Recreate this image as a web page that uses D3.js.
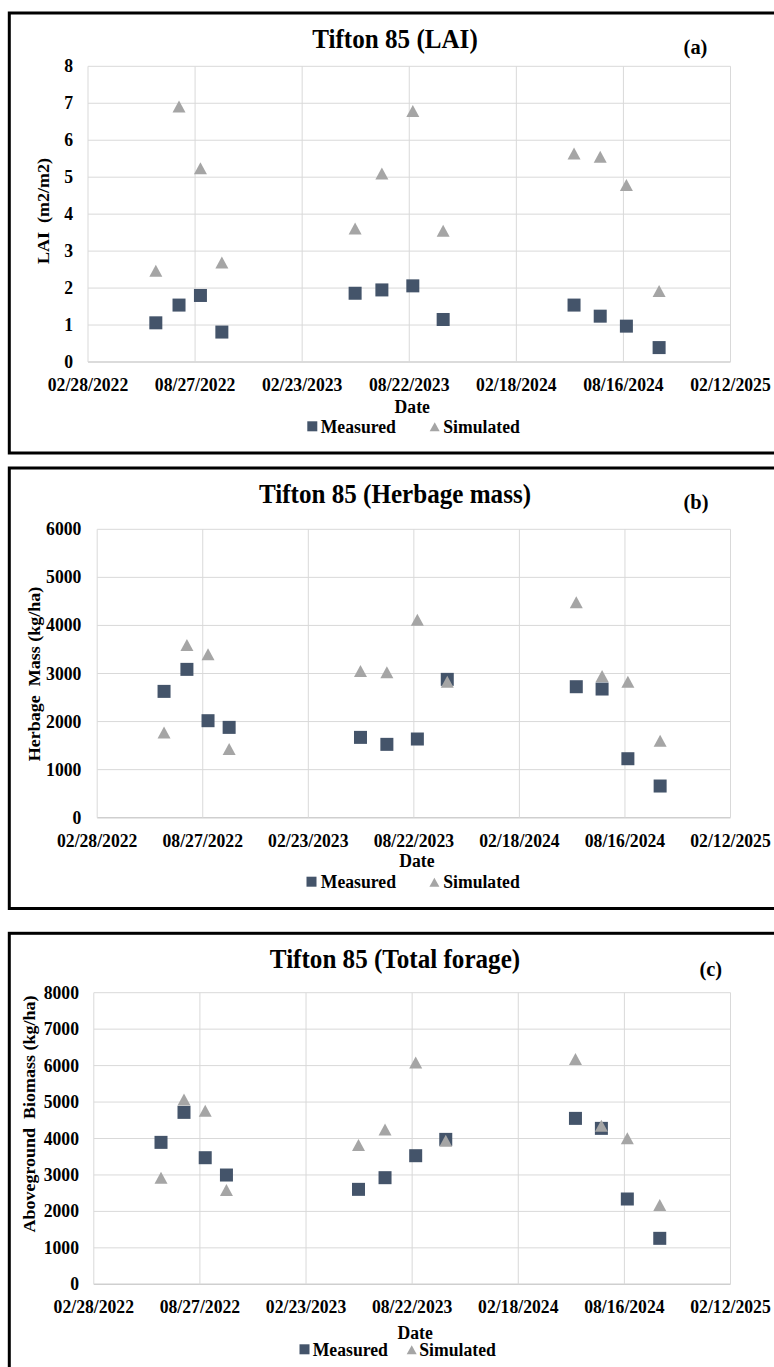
<!DOCTYPE html>
<html>
<head>
<meta charset="utf-8">
<script src="https://cdn.jsdelivr.net/npm/d3@7"></script>
<style>
  html, body { margin: 0; padding: 0; background: #fff; }
  svg { display: block; }
</style>
</head>
<body>
<svg id="fig" width="774" height="1367"></svg>
<script>
// Sampling dates shared by all three panels
const sampleDates = [
  "2022-06-22", "2022-07-31", "2022-09-05", "2022-10-11",
  "2023-05-23", "2023-07-07", "2023-08-28", "2023-10-18",
  "2024-05-25", "2024-07-08", "2024-08-21", "2024-10-15"
];

// (a) Leaf area index, m2/m2
const laiMeasured  = [1.06, 1.54, 1.80, 0.81, 1.86, 1.95, 2.06, 1.15, 1.54, 1.24, 0.97, 0.39];
const laiSimulated = [2.47, 6.91, 5.24, 2.69, 3.61, 5.10, 6.79, 3.55, 5.64, 5.55, 4.79, 1.92];

// (b) Herbage mass, kg/ha
const herbageMeasured  = [2628, 3086, 2018, 1879, 1671, 1526, 1637, 2878, 2725, 2677, 1227, 659];
const herbageSimulated = [1775, 3592, 3398, 1429, 3051, 3024, 4119, 2829, 4480, 2947, 2829, 1602];

// (c) Aboveground biomass (total forage), kg/ha
const totalMeasured  = [3894, 4717, 3473, 2998, 2605, 2925, 3528, 3976, 4552, 4278, 2340, 1261];
const totalSimulated = [2925, 5073, 4762, 2587, 3821, 4250, 6088, 3940, 6179, 4351, 4004, 2175];

// Axis ticks
const dateTicks    = ["2022-02-28", "2022-08-27", "2023-02-23", "2023-08-22", "2024-02-18", "2024-08-16", "2025-02-12"];
const laiTicks     = [0, 1, 2, 3, 4, 5, 6, 7, 8];
const herbageTicks = [0, 1000, 2000, 3000, 4000, 5000, 6000];
const totalTicks   = [0, 1000, 2000, 3000, 4000, 5000, 6000, 7000, 8000];

// Labels
const panelTitles  = ["Tifton 85 (LAI)", "Tifton 85 (Herbage mass)", "Tifton 85 (Total forage)"];
const panelLetters = ["(a)", "(b)", "(c)"];
const yAxisTitles  = ["LAI  (m2/m2)", "Herbage  Mass (kg/ha)", "Aboveground  Biomass (kg/ha)"];
const xAxisTitle   = "Date";
const seriesNames  = ["Measured", "Simulated"];

const parseDate = d3.timeParse("%Y-%m-%d");
const fmtDate = d3.timeFormat("%m/%d/%Y");

const panels = [
  { measured: laiMeasured, simulated: laiSimulated, ticks: laiTicks, fmt: d3.format("d") },
  { measured: herbageMeasured, simulated: herbageSimulated, ticks: herbageTicks, fmt: d3.format("d") },
  { measured: totalMeasured, simulated: totalSimulated, ticks: totalTicks, fmt: d3.format("d") }
].map((p, i) => ({ ...p, title: panelTitles[i], letter: panelLetters[i], yTitle: yAxisTitles[i] }));

// Page geometry of each panel
const layouts = [
  { frameTop: 13,    frameBottom: 453,  plot: { l: 88,   r: 730.5, t: 66.3,  b: 362 },
    titleY: 48,  letterX: 695.5, letterY: 53.5, tickRight: 73,   yTitleX: 43.3, yTitleY: 211,
    xTickY: 384, dateY: 406.7, legY: 426.3, legX: [312.3, 320.7, 434.7, 443.3] },
  { frameTop: 468,   frameBottom: 908.5, plot: { l: 97.2, r: 730.5, t: 529.3, b: 817.7 },
    titleY: 503, letterX: 696,   letterY: 509,  tickRight: 81.4, yTitleX: 33.6, yTitleY: 674,
    xTickY: 840, dateY: 861,   legY: 881.7, legX: [311.5, 320.8, 434.4, 443.2] },
  { frameTop: 933.3, frameBottom: 1420, plot: { l: 93.8, r: 730.5, t: 992.7, b: 1284.3 },
    titleY: 968, letterX: 710.8, letterY: 976,  tickRight: 79,   yTitleX: 29.3, yTitleY: 1114,
    xTickY: 1306.7, dateY: 1333, legY: 1349.3, legX: [304.5, 312.7, 411.7, 419.3] }
];

const SQUEEZE = 0.93;      // typeface is set slightly condensed
const FONT = "'Liberation Serif', 'Times New Roman', serif";
const measuredColor = "#44546a";
const simulatedColor = "#a5a5a5";
const gridColor = "#d9d9d9";

const svg = d3.select("#fig");
svg.append("rect").attr("width", 774).attr("height", 1367).attr("fill", "#fff");

function label(g, x, y, str, size, anchor) {
  return g.append("text")
    .attr("transform", `translate(${x},${y}) scale(${SQUEEZE},1)`)
    .attr("text-anchor", anchor || "middle")
    .attr("font-family", FONT)
    .attr("font-weight", "bold")
    .attr("font-size", size)
    .attr("fill", "#000")
    .text(str);
}

function trianglePath(cx, cy, w, h) {
  return `M${cx},${cy - h / 2}L${cx + w / 2},${cy + h / 2}L${cx - w / 2},${cy + h / 2}Z`;
}

const dates = sampleDates.map(parseDate);
const tickDates = dateTicks.map(parseDate);

panels.forEach((p, i) => {
  const L = layouts[i];
  const g = svg.append("g");

  // panel frame (right edge runs off the page)
  g.append("rect")
    .attr("x", 9.3).attr("y", L.frameTop)
    .attr("width", 800).attr("height", L.frameBottom - L.frameTop)
    .attr("fill", "none").attr("stroke", "#000").attr("stroke-width", 3);

  const x = d3.scaleTime()
    .domain([tickDates[0], tickDates[tickDates.length - 1]])
    .range([L.plot.l, L.plot.r]);
  const y = d3.scaleLinear()
    .domain([p.ticks[0], p.ticks[p.ticks.length - 1]])
    .range([L.plot.b, L.plot.t]);

  // grid
  const grid = g.append("g");
  grid.selectAll("line.h").data(p.ticks).join("line")
    .attr("x1", L.plot.l).attr("x2", L.plot.r)
    .attr("y1", d => y(d)).attr("y2", d => y(d))
    .attr("stroke", d => d === p.ticks[0] ? "#cfcfcf" : gridColor)
    .attr("stroke-width", d => d === p.ticks[0] ? 1.6 : 1);
  grid.selectAll("line.v").data(tickDates).join("line")
    .attr("x1", d => x(d)).attr("x2", d => x(d))
    .attr("y1", L.plot.t).attr("y2", L.plot.b)
    .attr("stroke", gridColor).attr("stroke-width", 1);

  // y tick labels
  p.ticks.forEach(t => label(g, L.tickRight, y(t) + 6, p.fmt(t), 19, "end"));
  // x tick labels
  tickDates.forEach(d => label(g, x(d), L.xTickY + 6.5, fmtDate(d), 19));

  // titles
  label(g, 395, L.titleY, p.title, 27);
  label(g, L.letterX, L.letterY, p.letter, 22);
  label(g, (L.plot.l + L.plot.r) / 2 + 3, L.dateY + 6.3, xAxisTitle, 19);

  g.append("text")
    .attr("transform", `translate(${L.yTitleX + 6},${L.yTitleY}) rotate(-90) scale(1,${SQUEEZE})`)
    .attr("text-anchor", "middle")
    .attr("font-family", FONT).attr("font-weight", "bold").attr("font-size", 18)
    .attr("fill", "#000")
    .attr("xml:space", "preserve")
    .style("white-space", "pre")
    .text(p.yTitle);

  // series
  const mSize = 13;
  g.append("g").selectAll("rect").data(p.measured).join("rect")
    .attr("x", (d, k) => x(dates[k]) - mSize / 2)
    .attr("y", d => y(d) - mSize / 2)
    .attr("width", mSize).attr("height", mSize)
    .attr("fill", measuredColor);
  g.append("g").selectAll("path").data(p.simulated).join("path")
    .attr("d", (d, k) => trianglePath(x(dates[k]), y(d), 13, 12))
    .attr("fill", simulatedColor);

  // legend
  const [sqX, mTextX, triX, sTextX] = L.legX;
  g.append("rect").attr("x", sqX - 5).attr("y", L.legY - 5)
    .attr("width", 10).attr("height", 10).attr("fill", measuredColor);
  label(g, mTextX, L.legY + 6.3, seriesNames[0], 19, "start");
  g.append("path").attr("d", trianglePath(triX, L.legY + 0.5, 10, 9)).attr("fill", simulatedColor);
  label(g, sTextX, L.legY + 6.3, seriesNames[1], 19, "start");
});
</script>
</body>
</html>
